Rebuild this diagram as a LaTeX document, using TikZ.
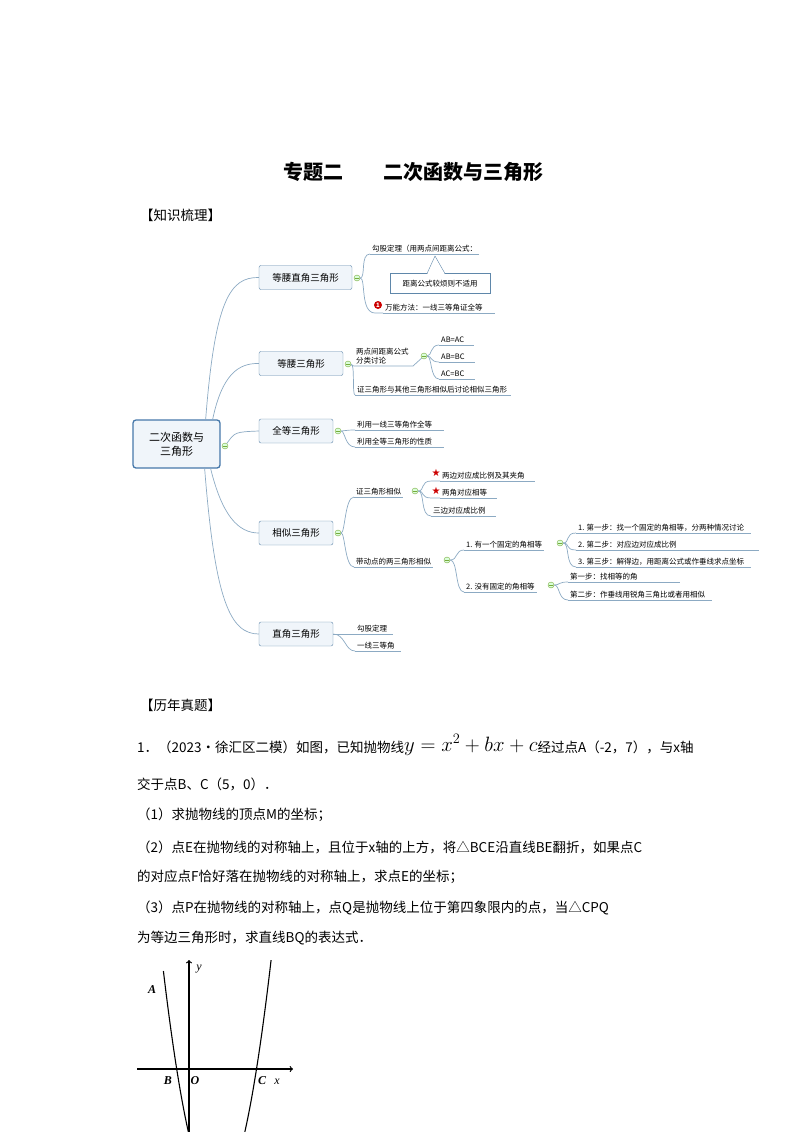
\documentclass[tikz,border=0pt]{standalone}
\usepackage{fontspec}
\setmainfont{Noto Sans CJK SC}
\newfontfamily\symfont{DejaVu Sans}
\newfontfamily\latinserif{Liberation Serif}
\usetikzlibrary{positioning}

\definecolor{linkblue}{RGB}{140,170,195}
\definecolor{boxblue}{RGB}{95,135,170}
\definecolor{rootblue}{RGB}{70,120,170}
\definecolor{boxfill}{RGB}{240,245,250}
\definecolor{foldgreen}{RGB}{120,170,60}

\tikzset{
  link/.style={draw=linkblue, line width=0.7pt},
  branchbox/.style={draw=boxblue, fill=boxfill, rounded corners=2pt, minimum height=24pt,
    inner xsep=7pt, font=\fontsize{9.5}{11}\selectfont},
  leaf/.style={anchor=south west, inner xsep=2pt, inner ysep=2pt, font=\fontsize{7.5}{8.8}\selectfont},
  fold/.style={circle, draw=foldgreen, fill=green!15, inner sep=0pt, minimum size=6pt},
  body/.style={anchor=west, inner sep=0pt, font=\fontsize{13.5}{15}\selectfont},
}
% leaf text with its underline
\newcommand{\leaf}[4][0]{%
  \node[leaf] (#2) at (#3) {#4};
  \draw[link] (#2.south west) -- ([xshift=#1pt]#2.south east);}
\newcommand{\fold}[2]{%
  \node[fold] (#1) at (#2) {};
  \draw[foldgreen, line width=0.5pt] ([xshift=-1.8pt]#1.center) -- ([xshift=1.8pt]#1.center);}

\begin{document}
\begin{tikzpicture}[x=1pt, y=-1pt]
\useasboundingbox (0,0) rectangle (800,1132);

% Title
\node[font=\fontsize{20}{22}\selectfont\bfseries] (title) at (413,172) {专题二\quad\quad 二次函数与三角形};
\node[body] (zhishi) at (140,215) {【知识梳理】};

% Root
\node[draw=rootblue, line width=1.3pt, fill=boxfill, rounded corners=3pt, minimum width=87pt,
  minimum height=48pt, align=center, font=\fontsize{11}{14}\selectfont] (root) at (176.5,444) {二次函数与\\三角形};
\fold{rootf}{225,446}

% Branch boxes
\node[branchbox, minimum width=93pt] (dyzj) at (305.5,277.5) {等腰直角三角形};
\node[branchbox, minimum width=84pt] (dy) at (301,363.5) {等腰三角形};
\node[branchbox, minimum width=74pt] (qd) at (296,431) {全等三角形};
\node[branchbox, minimum width=74pt] (xs) at (296,533) {相似三角形};
\node[branchbox, minimum width=74pt] (zj) at (296,634) {直角三角形};

\draw[link] (root.north east) ++(-15,0) .. controls (215,300) and (230,277) .. (dyzj.west);
\draw[link] (root.north east) ++(-8,0) .. controls (222,375) and (238,363) .. (dy.west);
\draw[link] (rootf) .. controls (235,432) .. (qd.west);
\draw[link] (root.south east) ++(-10,0) .. controls (222,515) and (238,533) .. (xs.west);
\draw[link] (root.south east) ++(-16,0) .. controls (215,600) and (230,634) .. (zj.west);

% Leaves of dyzj
\fold{dyzjf}{357,278}
\leaf{gg}{370,254}{勾股定理（用两点间距离公式：}
\node[draw=boxblue, fill=white, minimum width=100pt, minimum height=20pt, inner sep=2pt,
  font=\fontsize{7.5}{8.8}\selectfont] (callout) at (440,283.5) {距离公式较烦则不适用};
\draw[boxblue, fill=white] (427,273.6) -- (435,256) -- (445,273.6);
\draw[white, line width=1pt] (428,273.6) -- (444,273.6);
\leaf[10]{wn}{383,313}{万能方法：一线三等角证全等}
\node[circle, fill=red!80!black, inner sep=0pt, minimum size=8pt, text=white,
  font=\fontsize{6}{6}\bfseries] (one) at (378,305) {1};
\draw[link] (dyzjf) .. controls (366,278) and (360,254) .. (gg.south west);
\draw[link] (dyzjf) .. controls (366,278) and (360,313) .. (one.south west|-wn.south west) -- (wn.south west);

% Leaves of dy
\fold{dyf}{348,364}
\node[leaf, anchor=west, align=left] (fl) at (354,356) {两点间距离公式\\分类讨论};
\fold{flf}{424,356}
\leaf[8]{ab}{439,345}{AB=AC}
\leaf[8]{bc}{439,362}{AB=BC}
\leaf[8]{ac}{439,379}{AC=BC}
\leaf[2]{zs}{355,395}{证三角形与其他三角形相似后讨论相似三角形}
\draw[link] (dyf) -- (fl.south west|-355,366) -- (413,366) -- (flf);
\draw[link] (dyf) .. controls (355,364) and (352,395) .. (zs.south west);
\draw[link] (flf) .. controls (432,356) and (430,345) .. (ab.south west);
\draw[link] (flf) .. controls (432,356) and (430,362) .. (bc.south west);
\draw[link] (flf) .. controls (432,356) and (430,379) .. (ac.south west);

% Leaves of qd
\fold{qdf}{338,431}
\leaf[10]{qd1}{355,430}{利用一线三等角作全等}
\leaf[10]{qd2}{355,447}{利用全等三角形的性质}
\draw[link] (qdf) .. controls (345,431) and (345,430) .. (qd1.south west);
\draw[link] (qdf) .. controls (345,431) and (345,447) .. (qd2.south west);

% Leaves of xs
\fold{xsf}{338,533}
\leaf{zxs}{354,497}{证三角形相似}
\fold{zxsf}{415,491}
\leaf[8]{lb}{440,481}{两边对应成比例及其夹角}
\leaf[8]{lj}{440,498}{两角对应相等}
\leaf[8]{sb}{431,516}{三边对应成比例}
\node[text=red!80!black, font=\symfont\fontsize{10}{10}\selectfont, inner sep=0pt] (s1) at (436,473) {★};
\node[text=red!80!black, font=\symfont\fontsize{10}{10}\selectfont, inner sep=0pt] (s2) at (436,491) {★};
\draw[link] (zxsf) .. controls (425,491) and (420,481) .. (s1.south west|-lb.south west) -- (lb.south west);
\draw[link] (zxsf) .. controls (425,491) and (420,498) .. (s2.south west|-lj.south west) -- (lj.south west);
\draw[link] (zxsf) .. controls (425,491) and (420,516) .. (sb.south west);
\leaf{ddd}{354,567}{带动点的两三角形相似}
\fold{dddf}{447,560}
\draw[link] (xsf) .. controls (345,533) and (345,497) .. (zxs.south west);
\draw[link] (xsf) .. controls (345,533) and (345,567) .. (ddd.south west);
\leaf{gd}{464,550}{1. 有一个固定的角相等}
\fold{gdf}{560,543}
\leaf[5]{b1}{576,533}{1. 第一步：找一个固定的角相等，分两种情况讨论}
\leaf[80]{b2}{576,550}{2. 第二步：对应边对应成比例}
\leaf[5]{b3}{576,567}{3. 第三步：解得边，用距离公式或作垂线求点坐标}
\leaf{mgd}{464,592}{2. 没有固定的角相等}
\fold{mgdf}{551,585}
\leaf[40]{c1}{568,582}{第一步：找相等的角}
\leaf[5]{c2}{568,600}{第二步：作垂线用锐角三角比或者用相似}
\draw[link] (dddf) .. controls (458,560) and (455,550) .. (gd.south west);
\draw[link] (dddf) .. controls (458,560) and (455,592) .. (mgd.south west);
\draw[link] (gdf) .. controls (570,543) and (565,533) .. (b1.south west);
\draw[link] (gdf) .. controls (570,543) and (565,550) .. (b2.south west);
\draw[link] (gdf) .. controls (570,543) and (565,567) .. (b3.south west);
\draw[link] (mgdf) .. controls (560,585) and (558,582) .. (c1.south west);
\draw[link] (mgdf) .. controls (560,585) and (558,600) .. (c2.south west);

% Leaves of zj
\leaf[4]{zj1}{355,634}{勾股定理}
\leaf[4]{zj2}{355,651}{一线三等角}
\draw[link] (zj.east) .. controls (345,634) and (345,634) .. (zj1.south west);
\draw[link] (zj.east) .. controls (345,634) and (345,651) .. (zj2.south west);

% Problem
\node[body] (linian) at (140,705) {【历年真题】};
\node[body] (p1) at (137,745) {1．（2023•徐汇区二模）如图，已知抛物线\raisebox{1pt}{\fontsize{20}{20}\selectfont$y=x^2+bx+c$}经过点A（-2，7），与x轴};
\node[body] (p2) at (137,784) {交于点B、C（5，0）．};
\node[body] (p3) at (137,815) {（1）求抛物线的顶点M的坐标；};
\node[body] (p4) at (137,847) {（2）点E在抛物线的对称轴上，且位于x轴的上方，将△BCE沿直线BE翻折，如果点C};
\node[body] (p5) at (137,877) {的对应点F恰好落在抛物线的对称轴上，求点E的坐标；};
\node[body] (p6) at (137,908) {（3）点P在抛物线的对称轴上，点Q是抛物线上位于第四象限内的点，当△CPQ};
\node[body] (p7) at (137,938) {为等边三角形时，求直线BQ的表达式．};

% Graph
\coordinate (xl) at (137,1069);
\coordinate (xr) at (293,1069);
\coordinate (yb) at (189,1132);
\coordinate (yt) at (189,960);
\draw[line width=1.2pt, ->] (xl) -- (xr);
\draw[line width=1.2pt, ->] (yb) -- (yt);
\begin{scope}
\clip (130,960) rectangle (300,1132);
\draw[line width=1.1pt, domain=-2:1.35, samples=40, smooth]
  plot ({190+13.3*\x}, {1069-14*(\x*\x-4*\x-5)});
\draw[line width=1.1pt, domain=2.8:6.1, samples=40, smooth]
  plot ({190+13.3*\x}, {1069-14*(\x*\x-4*\x-5)});
\end{scope}
\begin{scope}[font=\latinserif\itshape\bfseries\fontsize{12}{12}\selectfont]
\node (la) at (152,990) {A};
\node (lb2) at (168,1081) {B};
\node (lo) at (195,1081) {O};
\node (lc) at (262,1081) {C};
\node[font=\latinserif\itshape\fontsize{12}{12}\selectfont] (lx) at (277,1082) {x};
\node[font=\latinserif\itshape\fontsize{12}{12}\selectfont] (ly) at (199,969) {y};
\end{scope}
\end{tikzpicture}
\end{document}
